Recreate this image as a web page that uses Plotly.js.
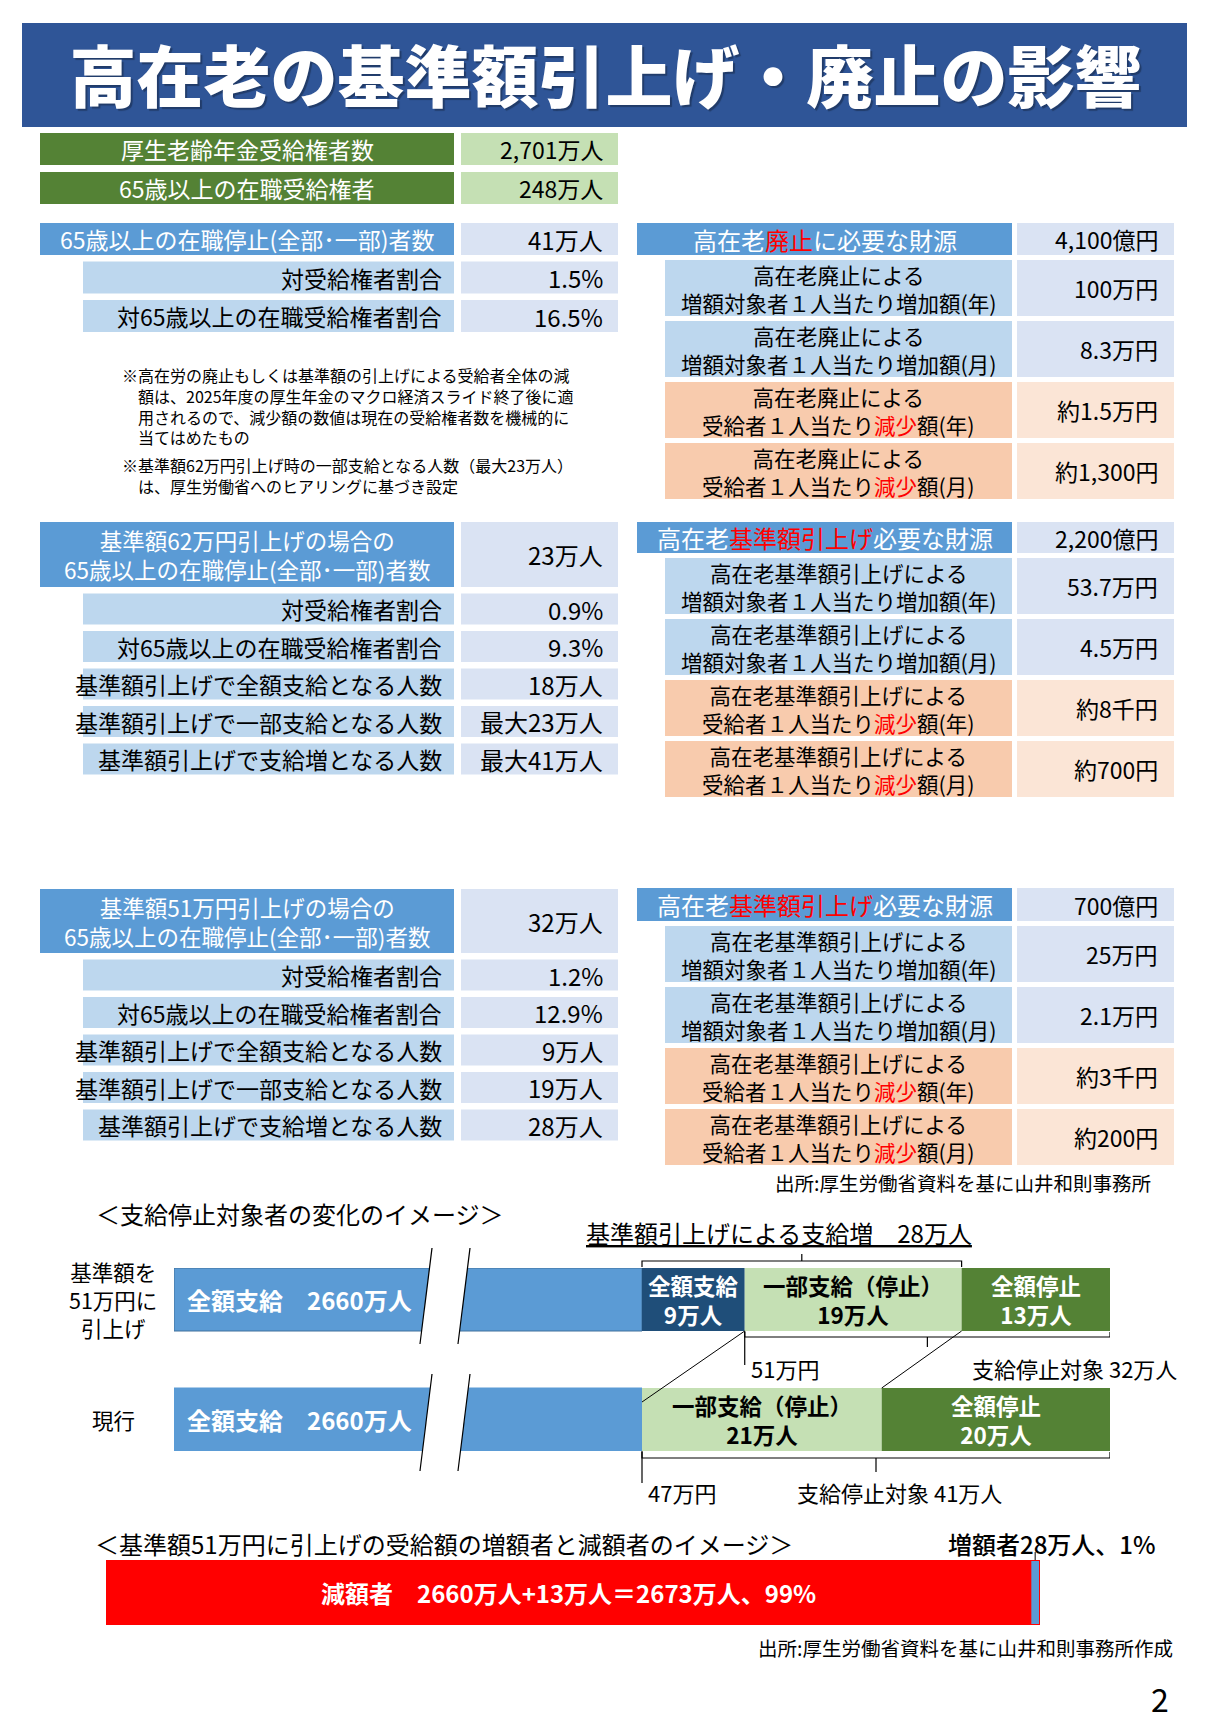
<!DOCTYPE html>
<html>
<head>
<meta charset="utf-8">
<script src="https://cdn.plot.ly/plotly-3.0.1.min.js"></script>
<style>html,body{margin:0;padding:0;background:#fff}</style>
</head>
<body>
<div id="chart" style="width:1211px;height:1725px"></div>
<script>
// ---- data ----
var pensionLabels = ['厚生老齢年金受給権者数', '65歳以上の在職受給権者'];
var pensionValues = ['2,701万人', '248万人'];

var stopLabels = ['65歳以上の在職停止(全部･一部)者数', '対受給権者割合', '対65歳以上の在職受給権者割合'];
var stopValues = ['41万人', '1.5%', '16.5%'];

var notes = [
    ['※高在労の廃止もしくは基準額の引上げによる受給者全体の減', '額は、2025年度の厚生年金のマクロ経済スライド終了後に適', '用されるので、減少額の数値は現在の受給権者数を機械的に', '当てはめたもの'],
    ['※基準額62万円引上げ時の一部支給となる人数（最大23万人）', 'は、厚生労働省へのヒアリングに基づき設定']
];

var costRowTails = ['増額対象者１人当たり増加額(年)', '増額対象者１人当たり増加額(月)', '受給者１人当たり減少額(年)', '受給者１人当たり減少額(月)'];

var abolishCostHead = '高在老廃止に必要な財源';
var abolishCostLead = '高在老廃止による';
var abolishCostValues = ['4,100億円', '100万円', '8.3万円', '約1.5万円', '約1,300円'];

var raiseCostHead = '高在老基準額引上げ必要な財源';
var raiseCostLead = '高在老基準額引上げによる';

var raise62Labels = ['基準額62万円引上げの場合の<br>65歳以上の在職停止(全部･一部)者数', '対受給権者割合', '対65歳以上の在職受給権者割合', '基準額引上げで全額支給となる人数', '基準額引上げで一部支給となる人数', '基準額引上げで支給増となる人数'];
var raise62Values = ['23万人', '0.9%', '9.3%', '18万人', '最大23万人', '最大41万人'];
var raise62CostValues = ['2,200億円', '53.7万円', '4.5万円', '約8千円', '約700円'];

var raise51Labels = ['基準額51万円引上げの場合の<br>65歳以上の在職停止(全部･一部)者数', '対受給権者割合', '対65歳以上の在職受給権者割合', '基準額引上げで全額支給となる人数', '基準額引上げで一部支給となる人数', '基準額引上げで支給増となる人数'];
var raise51Values = ['32万人', '1.2%', '12.9%', '9万人', '19万人', '28万人'];
var raise51CostValues = ['700億円', '25万円', '2.1万円', '約3千円', '約200円'];

// diagram, in 万人
var scenarioNames = ['基準額を<br>51万円に<br>引上げ', '現行'];
var fullPayCount = 2660;
var raisedSegLabels = ['全額支給', '一部支給（停止）', '全額停止'];
var raisedSegValues = [9, 19, 13];
var currentSegLabels = ['一部支給（停止）', '全額停止'];
var currentSegValues = [21, 20];
var thresholdLabels = ['51万円', '47万円'];

// ---- layout helpers ----
var W = 1211, H = 1725;
var FONT = '"Noto Sans CJK JP", "Noto Sans", sans-serif';
var RED = '#FF0000';
var BLUE_HEAD = '#5B9BD5', BLUE_ROW = '#BDD7EE', BLUE_VAL = '#DAE3F3';
var DEC_ROW = '#F8CBAD', DEC_VAL = '#FBE5D6';
var GREEN = '#548235', GREEN_LIGHT = '#C5E0B4', NAVY = '#1F4E79';

var LEFT = {x0: 40, ind: 83, x1: 454, v0: 461, v1: 618, pad: 13};
var RIGHT = {x0: 637, ind: 665, x1: 1012, v0: 1017, v1: 1174, pad: 14};

function hl(s, w) {
    return s.replace(w, '<span style="color:' + RED + '">' + w + '</span>');
}

var cells = {y: [], base: [], x: [], width: [], color: []};
function cell(x0, x1, y0, y1, color) {
    cells.y.push((y0 + y1) / 2);
    cells.base.push(x0);
    cells.x.push(x1 - x0);
    cells.width.push(y1 - y0);
    cells.color.push(color);
}

var annotations = [];
function txt(text, o) {
    var anchor = o.anchor || 'center';
    annotations.push({
        text: text, x: o.x, y: o.y,
        xref: o.xref || 'x', yref: o.yref || 'y',
        xanchor: anchor, yanchor: 'middle', align: anchor === 'center' ? 'center' : anchor,
        xshift: o.xshift || 0,
        showarrow: false,
        font: {family: FONT, size: o.size, color: o.color || '#000', weight: o.weight || 'normal'}
    });
}

function block(col, top, labels, values, o) {
    var y = top;
    labels.forEach(function(lab, i) {
        var head = o.head && i === 0;
        var h = head ? o.headH : o.rowH;
        var x0 = (head || o.flat) ? col.x0 : col.ind;
        var dec = o.decFrom != null && i >= o.decFrom;
        var fill = head ? BLUE_HEAD : (o.rowFill || (dec ? DEC_ROW : BLUE_ROW));
        cell(x0, col.x1, y, y + h, fill);
        cell(col.v0, col.v1, y, y + h, o.valFill || (dec ? DEC_VAL : BLUE_VAL));
        var yc = y + h / 2;
        var white = head || o.flat;
        if (head || o.center) {
            txt(lab, {x: (x0 + col.x1) / 2, y: yc, size: head ? o.headSize : o.size, color: white ? '#fff' : '#000'});
        } else {
            txt(lab, {x: col.x1 - 10, anchor: 'right', y: yc, size: o.size});
        }
        txt(values[i], {x: col.v1 - col.pad, anchor: 'right', y: yc, size: o.valSize});
        y += h + o.gap;
    });
}

function costLabels(head, word, lead) {
    return [hl(head, word)].concat(costRowTails.map(function(t) {
        return lead + '<br>' + hl(t, '減少');
    }));
}

// ---- tables ----
block(LEFT, 133, pensionLabels, pensionValues, {flat: true, center: true, rowH: 32, gap: 7, rowFill: GREEN, valFill: GREEN_LIGHT, size: 23, valSize: 23});
block(LEFT, 223, stopLabels, stopValues, {head: true, headH: 32, rowH: 32, gap: 6.5, headSize: 23, size: 23, valSize: 24});
block(LEFT, 522, raise62Labels, raise62Values, {head: true, headH: 65, rowH: 31, gap: 6.5, headSize: 22.5, size: 23, valSize: 24});
block(LEFT, 889, raise51Labels, raise51Values, {head: true, headH: 64, rowH: 31, gap: 6.5, headSize: 22.5, size: 23, valSize: 24});

var rightOpts = function(headH) {
    return {head: true, center: true, headH: headH, rowH: 56, gap: 5, decFrom: 3, headSize: 24, size: 21.5, valSize: 23};
};
block(RIGHT, 223, costLabels(abolishCostHead, '廃止', abolishCostLead), abolishCostValues, rightOpts(32));
block(RIGHT, 522, costLabels(raiseCostHead, '基準額引上げ', raiseCostLead), raise62CostValues, rightOpts(31));
block(RIGHT, 888, costLabels(raiseCostHead, '基準額引上げ', raiseCostLead), raise51CostValues, rightOpts(33));

// notes under the first table (continuation lines indented by one full-width space)
var noteCenters = [406, 475];
notes.forEach(function(lines, k) {
    var t = lines.map(function(l, i) { return i === 0 ? l : '　' + l; }).join('<br>');
    txt(t, {x: 120, anchor: 'left', y: noteCenters[k], size: 16});
});
txt('出所:厚生労働省資料を基に山井和則事務所', {x: 1153, anchor: 'right', y: 1182, size: 19.5});

// ---- diagram ----
var BREAK_SPAN = 41;  // drawn width of the compressed 全額支給 bar
var sum = function(a) { return a.reduce(function(s, v) { return s + v; }, 0); };
var span = BREAK_SPAN + sum(raisedSegValues);
var segColor = {'全額支給': NAVY, '一部支給（停止）': GREEN_LIGHT, '全額停止': GREEN};
var segText = {'全額支給': '#fff', '一部支給（停止）': '#000', '全額停止': '#fff'};

function starts(vals) {
    var acc = BREAK_SPAN;
    return vals.map(function(v) { var b = acc; acc += v; return b; });
}
var raisedBase = starts(raisedSegValues);
var currentBase = starts(currentSegValues);

var increase = raisedSegValues[0] + raisedSegValues[1];
var stopRaised = raisedSegValues[1] + raisedSegValues[2];
var stopCurrent = sum(currentSegValues);
var decrease = fullPayCount + raisedSegValues[2];
var totalPeople = decrease + increase;

var traces = [
    {type: 'bar', orientation: 'h', xaxis: 'x', yaxis: 'y', y: cells.y, base: cells.base, x: cells.x,
        width: cells.width, marker: {color: cells.color, line: {width: 0}}, hoverinfo: 'skip'},
    {type: 'bar', orientation: 'h', xaxis: 'x2', yaxis: 'y2', y: [0, 1], base: [0, 0],
        x: [BREAK_SPAN, BREAK_SPAN], width: 0.525,
        marker: {color: BLUE_HEAD, line: {color: ['#41719C', BLUE_HEAD], width: 1}}, hoverinfo: 'skip'},
    {type: 'bar', orientation: 'h', xaxis: 'x2', yaxis: 'y2', y: raisedSegValues.map(function() { return 0; }),
        base: raisedBase, x: raisedSegValues, width: 0.525,
        marker: {color: raisedSegLabels.map(function(l) { return segColor[l]; })}, hoverinfo: 'skip'},
    {type: 'bar', orientation: 'h', xaxis: 'x2', yaxis: 'y2', y: currentSegValues.map(function() { return 1; }),
        base: currentBase, x: currentSegValues, width: 0.525,
        marker: {color: currentSegLabels.map(function(l) { return segColor[l]; })}, hoverinfo: 'skip'},
    {type: 'bar', orientation: 'h', xaxis: 'x3', yaxis: 'y3', y: [0], base: [0], x: [decrease], width: 1,
        marker: {color: RED}, hoverinfo: 'skip'},
    {type: 'bar', orientation: 'h', xaxis: 'x3', yaxis: 'y3', y: [0], base: [decrease], x: [increase], width: 1,
        marker: {color: BLUE_HEAD, line: {color: RED, width: 2}}, hoverinfo: 'skip'}
];

txt('＜支給停止対象者の変化のイメージ＞', {x: 94, anchor: 'left', y: 1213, size: 24});
txt('<u>基準額引上げによる支給増　' + increase + '万人</u>', {x: 779, y: 1232, size: 24});

[0, 1].forEach(function(r) {
    txt(scenarioNames[r], {x: 113, y: r, yref: 'y2', size: 21.5});
    txt('<b>全額支給　' + fullPayCount + '万人</b>', {x: 0, xref: 'x2', xshift: 11, anchor: 'left', y: r, yref: 'y2', size: 24, color: '#fff'});
});
raisedSegLabels.forEach(function(l, i) {
    txt('<b>' + l + '<br>' + raisedSegValues[i] + '万人</b>', {x: raisedBase[i] + raisedSegValues[i] / 2, xref: 'x2', y: 0, yref: 'y2', size: 22.5, color: segText[l]});
});
currentSegLabels.forEach(function(l, i) {
    txt('<b>' + l + '<br>' + currentSegValues[i] + '万人</b>', {x: currentBase[i] + currentSegValues[i] / 2, xref: 'x2', y: 1, yref: 'y2', size: 22.5, color: segText[l]});
});

txt(thresholdLabels[0], {x: raisedBase[1], xref: 'x2', xshift: 4, anchor: 'left', y: 1368, size: 22});
txt('支給停止対象 ' + stopRaised + '万人', {x: span, xref: 'x2', xshift: 69, anchor: 'right', y: 1368, size: 22});
txt(thresholdLabels[1], {x: BREAK_SPAN, xref: 'x2', xshift: 4, anchor: 'left', y: 1492, size: 22});
txt('支給停止対象 ' + stopCurrent + '万人', {x: (BREAK_SPAN + span) / 2, xref: 'x2', xshift: 23, y: 1492, size: 22});

var bx = function(a, b, yLine, yEnd, yTip) {
    var m = (a + b) / 2;
    return 'M' + a + ',' + yEnd + ' L' + a + ',' + yLine + ' L' + b + ',' + yLine + ' L' + b + ',' + yEnd +
        ' M' + m + ',' + yLine + ' L' + m + ',' + yTip;
};
var lineStyle = {color: '#000', width: 1.2};
var shapes = [
    {type: 'rect', xref: 'x', yref: 'y', x0: 22, x1: 1187, y0: 23, y1: 127, fillcolor: '#2F5597', line: {width: 0}, layer: 'below'},
    {type: 'path', xref: 'x2', yref: 'y', path: bx(BREAK_SPAN, raisedBase[2], 1261, 1267, 1254), line: lineStyle},
    {type: 'path', xref: 'x2', yref: 'y', path: bx(raisedBase[1], span, 1337, 1332, 1347), line: lineStyle},
    {type: 'path', xref: 'x2', yref: 'y', path: bx(BREAK_SPAN, span, 1458, 1452, 1472), line: lineStyle},
    {type: 'line', xref: 'x2', yref: 'y', x0: raisedBase[1], x1: raisedBase[1], y0: 1331, y1: 1365, line: lineStyle},
    {type: 'line', xref: 'x2', yref: 'y', x0: BREAK_SPAN, x1: BREAK_SPAN, y0: 1451, y1: 1483, line: lineStyle},
    {type: 'line', xref: 'x2', yref: 'y', x0: raisedBase[1], x1: BREAK_SPAN, y0: 1331, y1: 1402, line: {color: '#000', width: 1}},
    {type: 'line', xref: 'x2', yref: 'y', x0: raisedBase[2], x1: currentBase[1], y0: 1331, y1: 1388, line: {color: '#000', width: 1}},
    {type: 'line', xref: 'x3', yref: 'y', x0: decrease + increase / 2, x1: decrease + increase / 2, y0: 1552, y1: 1560, line: {color: '#000', width: 1}}
];
// axis break marks on the 全額支給 bars
[[1248, 1344], [1374, 1471]].forEach(function(b) {
    shapes.push({type: 'path', xref: 'x', yref: 'y', path: 'M432,' + b[0] + ' L470,' + b[0] + ' L458,' + b[1] + ' L420,' + b[1] + ' Z',
        fillcolor: '#fff', line: {width: 0}});
    shapes.push({type: 'line', xref: 'x', yref: 'y', x0: 432, x1: 420, y0: b[0], y1: b[1], line: lineStyle});
    shapes.push({type: 'line', xref: 'x', yref: 'y', x0: 470, x1: 458, y0: b[0], y1: b[1], line: lineStyle});
});

// ---- increase / decrease bar ----
txt('＜基準額51万円に引上げの受給額の増額者と減額者のイメージ＞', {x: 93, anchor: 'left', y: 1543, size: 24});
txt('増額者' + increase + '万人、' + Math.round(increase / totalPeople * 100) + '%', {x: 1158, anchor: 'right', y: 1543, size: 24, weight: 500});
txt('<b>減額者　' + fullPayCount + '万人+' + raisedSegValues[2] + '万人＝' + decrease + '万人、' + Math.round(decrease / totalPeople * 100) + '%</b>',
    {x: decrease / 2, xref: 'x3', y: 0, yref: 'y3', size: 24, color: '#fff'});
txt('出所:厚生労働省資料を基に山井和則事務所作成', {x: 1175, anchor: 'right', y: 1647, size: 19.5});
txt('2', {x: 1160, y: 1698, size: 32});

var hidden = {visible: false, fixedrange: true};
var layout = {
    width: W, height: H,
    margin: {l: 0, r: 0, t: 0, b: 0},
    paper_bgcolor: '#fff', plot_bgcolor: 'rgba(0,0,0,0)',
    showlegend: false, barmode: 'overlay', hovermode: false,
    title: {
        text: '高在老の基準額引上げ・廃止の影響',
        x: 0.5, xanchor: 'center', xref: 'paper',
        y: 1 - 79 / H, yanchor: 'middle', yref: 'paper',
        font: {family: FONT, size: 67, color: '#fff', weight: 900, shadow: '2px 2px 1px rgba(0,0,0,0.3)'}
    },
    xaxis: Object.assign({range: [0, W], domain: [0, 1]}, hidden),
    yaxis: Object.assign({range: [H, 0], domain: [0, 1]}, hidden),
    xaxis2: Object.assign({range: [0, span], domain: [174 / W, 1110 / W], anchor: 'y2'}, hidden),
    yaxis2: Object.assign({range: [1.2625, -0.2625], domain: [1 - 1451 / H, 1 - 1268 / H], anchor: 'x2'}, hidden),
    xaxis3: Object.assign({range: [0, totalPeople], domain: [106 / W, 1040 / W], anchor: 'y3'}, hidden),
    yaxis3: Object.assign({range: [-0.5, 0.5], domain: [1 - 1625 / H, 1 - 1560 / H], anchor: 'x3'}, hidden),
    shapes: shapes,
    annotations: annotations
};

Plotly.newPlot('chart', traces, layout, {staticPlot: true, displayModeBar: false});
</script>
</body>
</html>
